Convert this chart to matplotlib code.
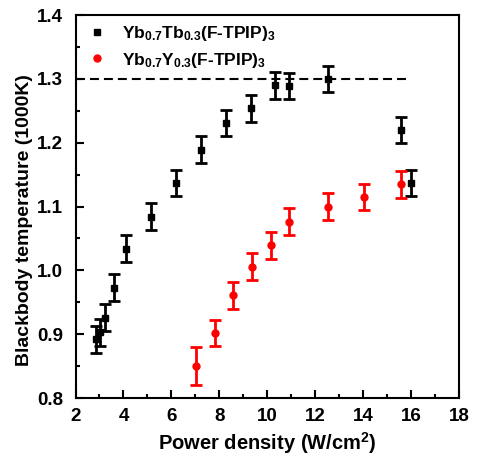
import numpy as np
import matplotlib
matplotlib.use('Agg')
import matplotlib.pyplot as plt
from matplotlib.ticker import MultipleLocator

plt.rcParams['font.family'] = ['Liberation Sans', 'DejaVu Sans']
plt.rcParams['font.weight'] = 'bold'
plt.rcParams['mathtext.fontset'] = 'custom'
plt.rcParams['mathtext.rm'] = 'Liberation Sans:bold'
plt.rcParams['mathtext.it'] = 'Liberation Sans:bold'
plt.rcParams['mathtext.bf'] = 'Liberation Sans:bold'
plt.rcParams['mathtext.default'] = 'rm'

# Yb0.7Tb0.3(F-TPIP)3
tb_x = [2.85, 3.01, 3.25, 3.6, 4.11, 5.14, 6.2, 7.23, 8.27, 9.32, 10.32, 10.93, 12.52, 15.6, 16.02]
tb_y = [0.892, 0.903, 0.926, 0.973, 1.034, 1.084, 1.137, 1.189, 1.231, 1.254, 1.290, 1.289, 1.300, 1.220, 1.137]
tb_err = [0.021] * 15

# Yb0.7Y0.3(F-TPIP)3
y_x = [7.03, 7.81, 8.59, 9.37, 10.14, 10.91, 12.52, 14.05, 15.6]
y_y = [0.850, 0.902, 0.961, 1.006, 1.039, 1.076, 1.100, 1.115, 1.135]
y_err = [0.030, 0.021, 0.021, 0.021, 0.021, 0.021, 0.021, 0.021, 0.021]

fig = plt.figure(figsize=(4.78, 4.57), dpi=100)
ax = fig.add_axes([0.158, 0.129, 0.802, 0.838])

ax.plot([2, 16], [1.3, 1.3], color='black', linestyle=(0, (4.3, 2.4)), linewidth=1.5)

ax.errorbar(tb_x, tb_y, yerr=tb_err, fmt='s', color='black', markersize=5,
            elinewidth=2, capsize=4, capthick=2,
            label=r'Yb$_{0.7}$Tb$_{0.3}$(F-TPIP)$_{3}$')
ax.errorbar(y_x, y_y, yerr=y_err, fmt='o', color='red', markersize=5,
            elinewidth=2, capsize=4, capthick=2,
            label=r'Yb$_{0.7}$Y$_{0.3}$(F-TPIP)$_{3}$')

ax.set_xlim(2, 18)
ax.set_ylim(0.8, 1.4)
ax.xaxis.set_major_locator(MultipleLocator(2))
ax.xaxis.set_minor_locator(MultipleLocator(1))
ax.yaxis.set_major_locator(MultipleLocator(0.1))
ax.yaxis.set_minor_locator(MultipleLocator(0.05))
ax.yaxis.set_major_formatter(matplotlib.ticker.FormatStrFormatter('%.1f'))
ax.tick_params(which='both', direction='in', top=False, right=False, labelsize=13.5, width=1.5)
ax.tick_params(which='major', length=6)
ax.tick_params(which='minor', length=3)
ax.tick_params(axis='y', pad=9)
ax.tick_params(axis='x', pad=7)
for s in ax.spines.values():
    s.set_linewidth(1.5)

ax.set_xlabel(r'Power density (W/cm$^{2}$)', fontsize=14.5, fontweight='bold', labelpad=4)
ax.set_ylabel('Blackbody temperature (1000K)', fontsize=14, fontweight='bold')
ax.yaxis.set_label_coords(-0.111, 0.465)

handles, labels = ax.get_legend_handles_labels()
handles = [h[0] for h in handles]
ax.legend(handles, labels, loc='upper left', frameon=False, fontsize=12.5,
          handlelength=1.5, handletextpad=0.7, borderaxespad=0.1,
          borderpad=0.4, labelspacing=0.45)

fig.savefig('out.png', dpi=100)
